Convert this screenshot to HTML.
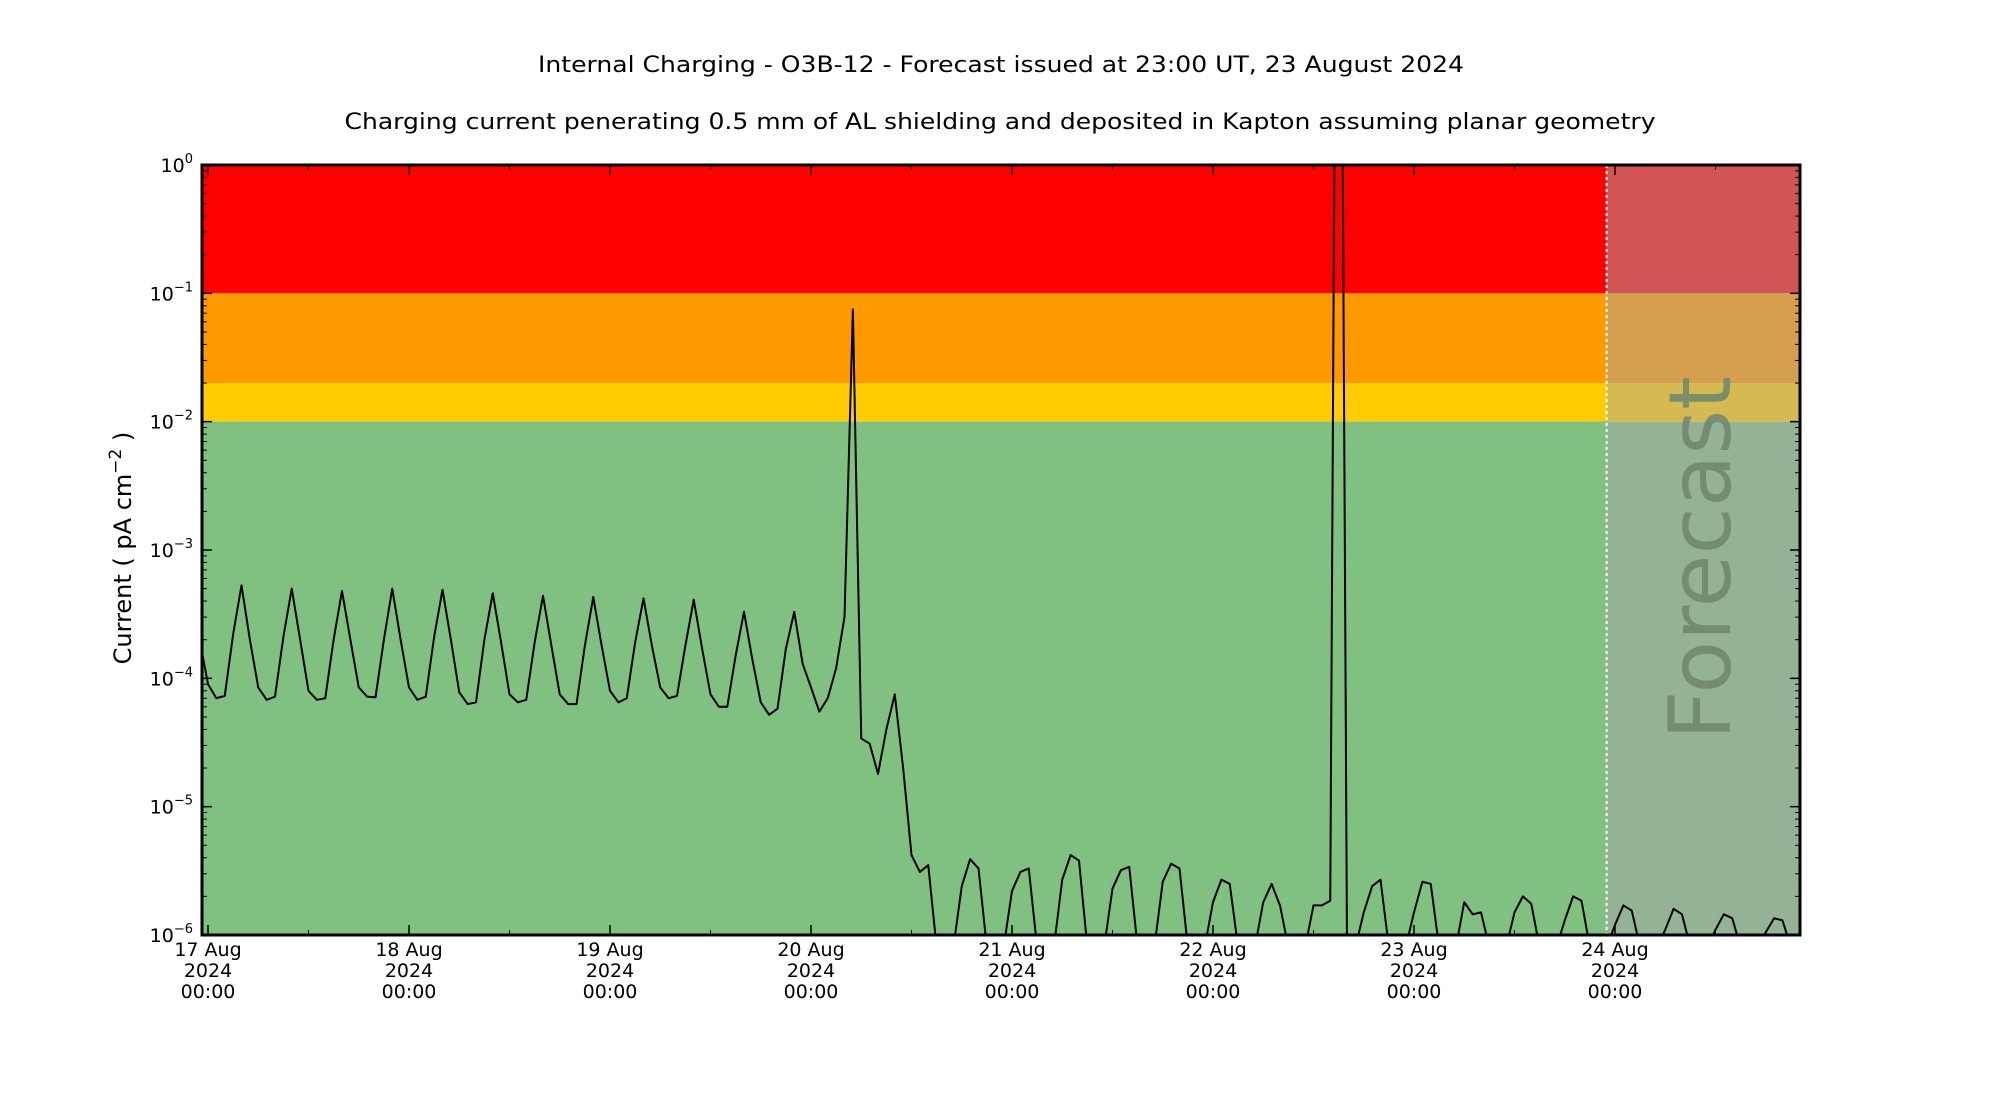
<!DOCTYPE html>
<html><head><meta charset="utf-8"><style>
html,body{margin:0;padding:0;background:#fff;width:2000px;height:1100px;overflow:hidden}
svg{display:block;position:absolute;left:0;top:0}
text{font-family:"DejaVu Sans","Liberation Sans",sans-serif;fill:#000}
</style></head><body>
<svg id="chart" width="2000" height="1100" viewBox="0 0 2000 1100" xmlns="http://www.w3.org/2000/svg">
<defs><clipPath id="plotclip"><rect x="202" y="165" width="1598" height="770"/></clipPath></defs>
<text x="1001" y="72" font-size="22" text-anchor="middle" textLength="926" lengthAdjust="spacingAndGlyphs">Internal Charging - O3B-12 - Forecast issued at 23:00 UT, 23 August 2024</text>
<text x="1000" y="129" font-size="22" text-anchor="middle" textLength="1311" lengthAdjust="spacingAndGlyphs">Charging current penerating 0.5 mm of AL shielding and deposited in Kapton assuming planar geometry</text>
<g id="bands"></g>
<g id="forecast"></g>
<text transform="translate(1730,558) rotate(-90)" font-size="86" text-anchor="middle" style="fill:#6f856f" opacity="0.85">Forecast</text>
<g id="series" clip-path="url(#plotclip)"></g>
<g id="ticks"></g>
<rect x="202" y="165" width="1598" height="770" fill="none" stroke="#000" stroke-width="3"/>
<text transform="translate(131,548) rotate(-90)" font-size="24" text-anchor="middle">Current ( pA cm<tspan dy="-10" font-size="17">−2</tspan><tspan dy="10"> )</tspan></text>
</svg>
<script>
// hours relative to 17 Aug 2024 00:00 UT
const startHour = -1;
const currents = [
2e-4,9e-5,7e-5,7.3e-5,2.2e-4,
5.3e-4,2e-4,8.5e-5,6.8e-5,7.2e-5,2.1e-4,
5e-4,2e-4,8e-5,6.8e-5,7e-5,2e-4,
4.8e-4,2e-4,8.5e-5,7.2e-5,7.1e-5,2e-4,
5e-4,2e-4,8.5e-5,6.8e-5,7.2e-5,2.1e-4,
4.9e-4,2e-4,7.8e-5,6.3e-5,6.5e-5,2e-4,
4.6e-4,1.9e-4,7.5e-5,6.5e-5,6.8e-5,1.9e-4,
4.4e-4,1.8e-4,7.5e-5,6.3e-5,6.3e-5,1.8e-4,
4.3e-4,1.8e-4,8e-5,6.5e-5,7e-5,1.9e-4,
4.2e-4,1.8e-4,8.5e-5,7e-5,7.3e-5,1.8e-4,
4.1e-4,1.7e-4,7.5e-5,6e-5,6e-5,1.5e-4,
3.3e-4,1.4e-4,6.5e-5,5.2e-5,5.8e-5,1.7e-4,
3.3e-4,1.3e-4,8.5e-5,5.5e-5,7e-5,1.2e-4,3e-4,
7.5e-2,3.4e-5,3.1e-5,1.8e-5,4e-5,7.5e-5,2e-5,4.2e-6,3.1e-6,3.5e-6,
0,0,0,
2.4e-6,3.9e-6,3.3e-6,0,0,0,
2.2e-6,3.1e-6,3.3e-6,0,0,0,
2.7e-6,4.2e-6,3.8e-6,0,0,0,
2.3e-6,3.2e-6,3.4e-6,0,0,0,
2.6e-6,3.6e-6,3.3e-6,0,0,0,
1.8e-6,2.7e-6,2.5e-6,0,0,0,
1.8e-6,2.5e-6,1.7e-6,0,0,0,
1.7e-6,1.7e-6,1.85e-6,1e6,0,0,
1.5e-6,2.4e-6,2.7e-6,0,0,0,
1.5e-6,2.6e-6,2.5e-6,0,0,0,
1.8e-6,1.45e-6,1.5e-6,0,0,0,
1.5e-6,2e-6,1.75e-6,0,0,0,
1.3e-6,2e-6,1.85e-6,0,0,0,
1.2e-6,1.7e-6,1.55e-6,0,0,0,
1.1e-6,1.6e-6,1.45e-6,0,0,0,
1.1e-6,1.45e-6,1.35e-6,0,0,0,
1.05e-6,1.35e-6,1.3e-6,0
];
const dayLabels = ["17 Aug","18 Aug","19 Aug","20 Aug","21 Aug","22 Aug","23 Aug","24 Aug"];
const yTickExponents = [0,-1,-2,-3,-4,-5,-6];
const bandLevels = [1,0.1,0.02,0.01,1e-6];
const bandColors = ["#ff0000","#fe9a00","#fecc00","#80c080"];
const forecastColors = ["#d35454","#d4a050","#d4ba50","#94b294"];
const forecastStartHour = 167;

const NS="http://www.w3.org/2000/svg";
const X0=208, PXH=201/24, L=202, R=1800, T=165, B=935;
const xs = h => X0 + h*PXH;
const ys = v => T + (0 - Math.log10(v>0 ? v : 8e-7)) * (B-T)/6;
function mk(tag, attrs, parent){const e=document.createElementNS(NS,tag);for(const k in attrs)e.setAttribute(k,attrs[k]);parent.appendChild(e);return e;}

const bands=document.getElementById('bands'), fc=document.getElementById('forecast');
const fx = xs(forecastStartHour);
for(let i=0;i<bandColors.length;i++){
  const y1=ys(bandLevels[i]), y2=ys(bandLevels[i+1]);
  const r=mk('rect',{x:L,y:y1,width:fx-L,height:y2-y1,fill:bandColors[i]},bands);
  
  
  const f=mk('rect',{x:fx,y:y1,width:R-fx,height:y2-y1,fill:forecastColors[i]},fc);
  
  
}
const fl=mk('line',{x1:fx,y1:T,x2:fx,y2:B,stroke:'#fff','stroke-width':2,'stroke-dasharray':'3,3'},fc);



let d='';
currents.forEach((v,i)=>{d+=(i?'L':'M')+xs(startHour+i).toFixed(2)+','+ys(v).toFixed(2);});
const line=mk('path',{d:d,fill:'none',stroke:'#000','stroke-width':2,'stroke-linejoin':'round'},document.getElementById('series'));



const tk=document.getElementById('ticks');
yTickExponents.forEach(e=>{
  const y=ys(Math.pow(10,e));
  mk('line',{x1:L,y1:y,x2:L+10,y2:y,stroke:'#000','stroke-width':1.5},tk);
  mk('line',{x1:R,y1:y,x2:R-10,y2:y,stroke:'#000','stroke-width':1.5},tk);
  const t=mk('text',{x:193,y:y+7,'font-size':19,'text-anchor':'end'},tk);
  
  
  t.textContent='10';
  const s=mk('tspan',{dy:-9,'font-size':13},t); s.textContent=(e<0?'−':'')+Math.abs(e);
  if(e>-6){for(let m=2;m<10;m++){const ym=ys(m*Math.pow(10,e-1));
    mk('line',{x1:L,y1:ym,x2:L+5,y2:ym,stroke:'#000','stroke-width':1},tk);
    mk('line',{x1:R,y1:ym,x2:R-5,y2:ym,stroke:'#000','stroke-width':1},tk);}}
});
dayLabels.forEach((lab,i)=>{
  const x=xs(i*24);
  mk('line',{x1:x,y1:B,x2:x,y2:B-10,stroke:'#000','stroke-width':1.5},tk);
  mk('line',{x1:x,y1:T,x2:x,y2:T+10,stroke:'#000','stroke-width':1.5},tk);
  const xm=xs(i*24+12);
  if(xm<R){mk('line',{x1:xm,y1:B,x2:xm,y2:B-5,stroke:'#000','stroke-width':1},tk);
    mk('line',{x1:xm,y1:T,x2:xm,y2:T+5,stroke:'#000','stroke-width':1},tk);}
  [lab,'2024','00:00'].forEach((s,j)=>{
    const t=mk('text',{x:x,y:956+j*21,'font-size':19,'text-anchor':'middle'},tk);
    
    
    t.textContent=s;
  });
});
</script>
</body></html>
